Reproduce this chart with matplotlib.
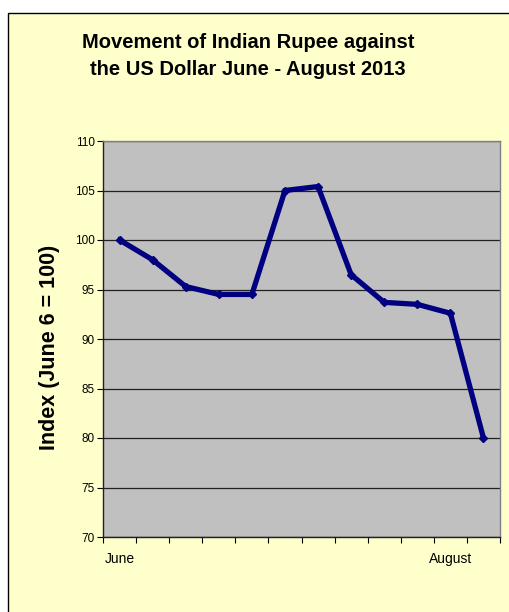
import matplotlib
matplotlib.use("Agg")
import matplotlib.pyplot as plt
from matplotlib.patches import Rectangle

categories = ["June", "", "", "", "", "", "", "", "", "", "August", ""]
index_values = [100.0, 98.0, 95.3, 94.5, 94.5, 105.0, 105.4, 96.5, 93.7, 93.5, 92.6, 80.0]
y_ticks = [70, 75, 80, 85, 90, 95, 100, 105, 110]

plt.rcParams['font.family'] = ['Liberation Sans', 'DejaVu Sans']

W, H = 510, 612
fig = plt.figure(figsize=(W / 100, H / 100), dpi=100)
fig.patch.set_facecolor('white')

# chart area background with border
fig.patches.append(Rectangle((8 / W, -0.01), 1.0, 1 - 13 / H + 0.01,
                             transform=fig.transFigure, facecolor='#FFFFCC',
                             edgecolor='black', linewidth=1.0, zorder=-5))

ax = fig.add_axes([103 / W, 1 - 537 / H, (500 - 103) / W, (537 - 141) / H])
ax.set_zorder(2)
ax.set_facecolor('#C0C0C0')

x = list(range(len(index_values)))
ax.plot(x, index_values, color='#000080', linewidth=3.8, marker='D',
        markersize=4.5, markerfacecolor='#000080', markeredgecolor='#000080',
        solid_joinstyle='miter', zorder=3)

ax.set_ylim(70, 110)
ax.set_yticks(y_ticks)
ax.set_yticklabels([str(v) for v in y_ticks], fontsize=8.5)
ax.set_xlim(-0.5, len(categories) - 0.5)

# category boundary tick marks
ax.set_xticks([i - 0.5 for i in range(len(categories) + 1)])
ax.set_xticklabels([])
ax.tick_params(axis='x', which='major', length=4, width=0.8, color='black', direction='out')
# labels at category centers
label_pos = [i for i, c in enumerate(categories) if c]
ax.set_xticks(label_pos, minor=True)
ax.set_xticklabels([categories[i] for i in label_pos], minor=True, fontsize=10)
ax.tick_params(axis='x', which='minor', length=0, pad=10.5)
ax.tick_params(axis='y', length=4, width=0.8, color='black', direction='out', pad=2)

ax.grid(axis='y', color='#202020', linewidth=0.9)
ax.set_axisbelow(True)

for s in ['top', 'right']:
    ax.spines[s].set_color('#808080')
    ax.spines[s].set_linewidth(1.0)
for s in ['left', 'bottom']:
    ax.spines[s].set_color('#202020')
    ax.spines[s].set_linewidth(1.0)

fig.text(248 / W, 1 - 56 / H, "Movement of Indian Rupee against\nthe US Dollar June - August 2013",
         ha='center', va='center', fontsize=14.5, fontweight='bold', linespacing=1.5)

fig.text(50 / W, 1 - 347 / H, "Index (June 6 = 100)", rotation=90,
         ha='center', va='center', fontsize=15.5, fontweight='bold')

fig.savefig("out.png", dpi=100, facecolor=fig.get_facecolor())
